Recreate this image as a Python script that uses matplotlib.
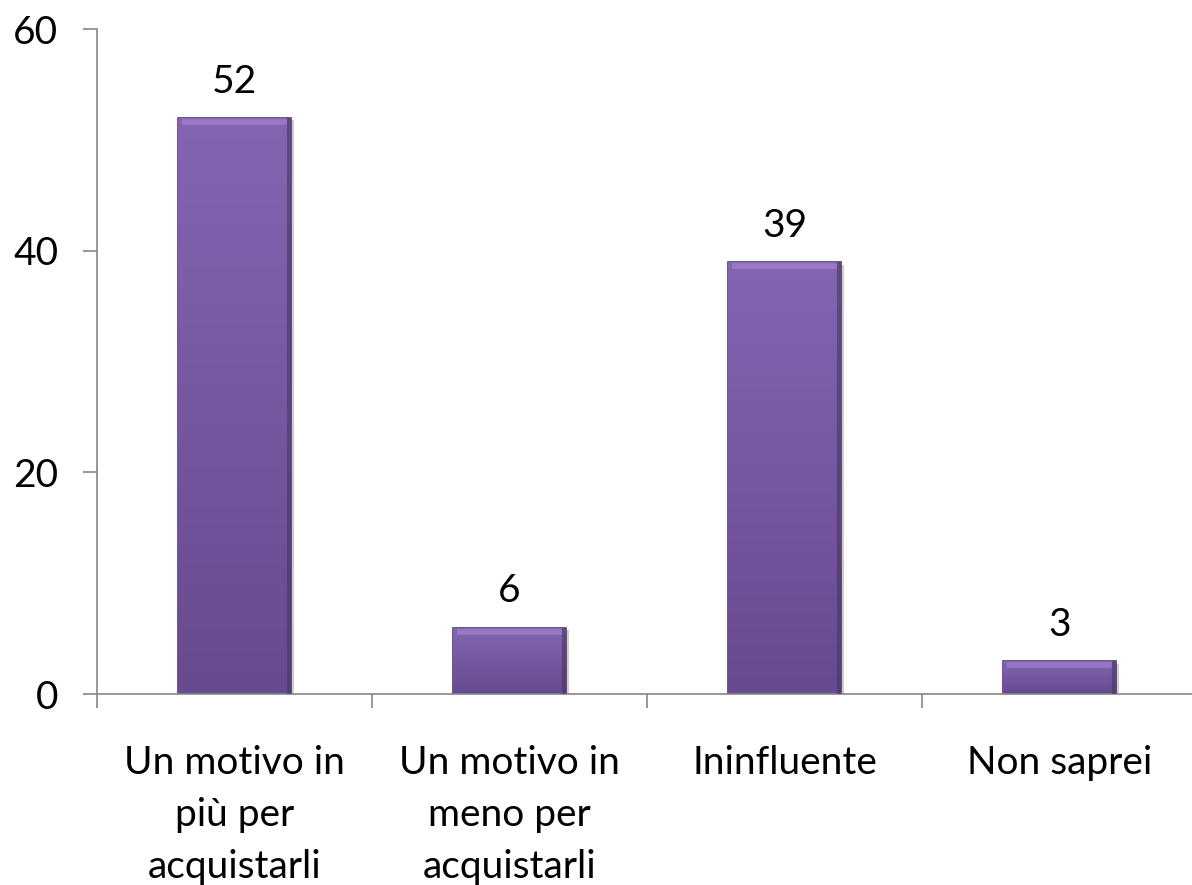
import numpy as np
import matplotlib.pyplot as plt
import matplotlib.patheffects as pe
from matplotlib.colors import LinearSegmentedColormap

plt.rcParams['font.family'] = ['Lato', 'DejaVu Sans']

categories = ['Un motivo in\npiù per\nacquistarli', 'Un motivo in\nmeno per\nacquistarli',
              'Ininfluente', 'Non saprei']
values = [52, 6, 39, 3]

fig = plt.figure(figsize=(11.92, 8.85), dpi=100)
ax = fig.add_axes([0.0814, 0.2158, 0.923, 0.7514])

x = np.arange(len(categories))
bars = ax.bar(x, values, width=0.41, color='#7b5aa6', edgecolor='#4e3a6c', linewidth=1.2,
              zorder=2,
              path_effects=[pe.SimplePatchShadow(offset=(2, -2), shadow_rgbFace='#9a9a9a', alpha=0.5),
                            pe.Normal()])

# soft vertical gradient inside each bar
cmap = LinearSegmentedColormap.from_list('bar', ['#684a90', '#8465b2'])
grad = np.linspace(0, 1, 256).reshape(-1, 1)
for b in bars:
    x0, y0 = b.get_x(), b.get_y()
    w, h = b.get_width(), b.get_height()
    im = ax.imshow(grad, extent=[x0, x0 + w, y0, y0 + h], origin='lower', cmap=cmap,
                   aspect='auto', zorder=2.5)
    im.set_clip_path(b)
    # top bevel highlight
    ax.plot([x0 + 0.015, x0 + w - 0.015], [y0 + h - 0.4, y0 + h - 0.4], color='#a888d6',
            lw=4, alpha=0.6, zorder=2.6, solid_capstyle='butt')
    ax.plot([x0 + w - 0.006] * 2, [y0 + 0.1, y0 + h - 0.2], color='#4a3466', lw=3, alpha=0.6,
            zorder=2.6)

for xi, v in zip(x, values):
    ax.annotate(str(v), (xi, v), xytext=(0, 13), textcoords='offset points',
                ha='center', va='bottom', fontsize=28)

ax.set_xlim(-0.5, len(categories) - 0.5)
ax.set_ylim(0, 60)
ax.set_yticks([0, 20, 40, 60])
ax.tick_params(axis='y', labelsize=28, length=10, width=1.2, color='#868686', pad=18)

ax.set_xticks(x)
ax.set_xticklabels(categories, fontsize=28, linespacing=1.55)
ax.tick_params(axis='x', length=0, pad=37)
ax.set_xticks(np.arange(-0.5, len(categories) - 0.5, 1), minor=True)
ax.tick_params(axis='x', which='minor', length=10, width=1.2, color='#868686')

for s in ['top', 'right']:
    ax.spines[s].set_visible(False)
for s in ['left', 'bottom']:
    ax.spines[s].set_color('#868686')
    ax.spines[s].set_linewidth(1.2)

fig.savefig('out.png', dpi=100)
